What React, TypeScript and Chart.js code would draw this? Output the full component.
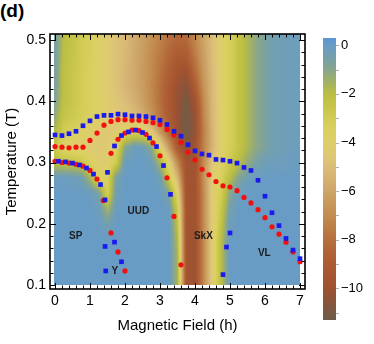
import React, { useEffect, useRef } from "react";
import { Chart, registerables } from "chart.js";

Chart.register(...registerables);

const FONT = "'Liberation Sans', Arial, Helvetica, sans-serif";

// ---------- marker data: (magnetic field h, temperature T) ----------
const blueOuterH = [0, 0.2, 0.4, 0.6, 0.8, 1.0, 1.2, 1.4, 1.6, 1.8, 2.0, 2.2, 2.4, 2.6, 2.8, 3.0, 3.2, 3.4, 3.6, 3.8, 4.0, 4.2, 4.4, 4.6, 4.8, 5.0, 5.2, 5.4, 5.6, 5.8, 6.0, 6.2, 6.4, 6.6, 6.8, 7.0];
const blueOuterT = [0.345, 0.344, 0.347, 0.351, 0.36, 0.368, 0.375, 0.377, 0.377, 0.379, 0.378, 0.376, 0.376, 0.375, 0.373, 0.369, 0.362, 0.351, 0.343, 0.329, 0.319, 0.314, 0.312, 0.305, 0.304, 0.302, 0.299, 0.292, 0.287, 0.271, 0.245, 0.218, 0.197, 0.176, 0.157, 0.143];
const blueLowerH = [0.1, 0.3, 0.5, 0.7, 0.9, 1.1, 1.3, 1.43];
const blueLowerT = [0.302, 0.301, 0.299, 0.296, 0.291, 0.281, 0.264, 0.239];
const blueDomeH = [1.5, 1.7, 1.9, 2.1, 2.3, 2.5, 2.7, 2.9, 3.1, 3.3];
const blueDomeT = [0.284, 0.327, 0.344, 0.35, 0.353, 0.349, 0.34, 0.326, 0.295, 0.248];
const blueYH = [1.43, 1.7, 1.9, 1.45];
const blueYT = [0.163, 0.17, 0.138, 0.123];
const blueSkxH = [5.0, 4.9, 4.8];
const blueSkxT = [0.185, 0.162, 0.117];

const redOuterH = [0, 0.2, 0.4, 0.6, 0.8, 1.0, 1.2, 1.4, 1.6, 1.8, 2.0, 2.2, 2.4, 2.6, 2.8, 3.0, 3.2, 3.4, 3.6, 3.8, 4.0, 4.2, 4.4, 4.6, 4.8, 5.0, 5.2, 5.4, 5.6, 5.8, 6.0, 6.2, 6.4, 6.6, 6.8, 7.0];
const redOuterT = [0.326, 0.325, 0.324, 0.325, 0.325, 0.336, 0.348, 0.361, 0.367, 0.37, 0.37, 0.369, 0.369, 0.367, 0.365, 0.362, 0.354, 0.345, 0.333, 0.317, 0.304, 0.289, 0.28, 0.269, 0.262, 0.26, 0.254, 0.243, 0.234, 0.223, 0.21, 0.195, 0.183, 0.17, 0.154, 0.138];
const redLowerH = [0, 0.2, 0.4, 0.6, 0.8, 1.0, 1.2, 1.38];
const redLowerT = [0.302, 0.3, 0.299, 0.297, 0.294, 0.287, 0.273, 0.238];
const redDomeH = [1.6, 1.8, 2.0, 2.2, 2.4, 2.6, 2.8, 3.0, 3.2, 3.4, 3.6];
const redDomeT = [0.315, 0.338, 0.348, 0.353, 0.352, 0.346, 0.332, 0.311, 0.275, 0.212, 0.133];
const redYH = [1.6, 1.8, 2.0];
const redYT = [0.185, 0.154, 0.123];

// ---------- phase labels ----------
const phaseNames = ["SP", "UUD", "Y", "SkX", "VL"];
const phaseH = [0.59, 2.38, 1.71, 4.24, 5.98];
const phaseT = [0.18, 0.221, 0.122, 0.18, 0.152];

// ---------- background field (colour-bar units) ----------
const gridH = [0, 0.25, 0.5, 0.75, 1.0, 1.25, 1.5, 1.75, 2.0, 2.25, 2.5, 2.75, 3.0, 3.25, 3.5, 3.75, 4.0, 4.25, 4.5, 4.75, 5.0, 5.25, 5.5, 5.75, 6.0, 6.25, 6.5, 6.75, 7.0];
const gridT = [0.5, 0.475, 0.45, 0.425, 0.4, 0.375, 0.35, 0.325, 0.3, 0.275, 0.25, 0.225, 0.2, 0.175, 0.15, 0.125, 0.1];
const gridValues = [
  [-0.5, -2.0, -2.5, -2.9, -3.3, -3.8, -4.3, -4.8, -5.2, -5.7, -6.2, -6.8, -7.4, -8.0, -8.4, -8.3, -7.2, -6.0, -5.0, -4.0, -3.2, -2.4, -1.7, -1.1, -0.7, -0.4, -0.3, -0.2, -0.2],
  [-0.5, -2.1, -2.5, -2.9, -3.3, -3.8, -4.3, -4.8, -5.2, -5.8, -6.3, -7.0, -7.6, -8.4, -9.0, -9.0, -7.6, -6.2, -5.0, -4.0, -3.2, -2.4, -1.7, -1.1, -0.7, -0.4, -0.3, -0.2, -0.2],
  [-0.6, -2.2, -2.6, -3.0, -3.4, -3.8, -4.3, -4.8, -5.3, -5.8, -6.4, -7.0, -7.8, -8.8, -9.6, -9.9, -8.2, -6.4, -5.1, -4.0, -3.2, -2.4, -1.7, -1.1, -0.7, -0.4, -0.3, -0.2, -0.2],
  [-0.6, -2.2, -2.6, -3.0, -3.4, -3.8, -4.3, -4.8, -5.3, -5.8, -6.3, -7.1, -8.0, -9.1, -10.0, -10.6, -9.0, -6.7, -5.2, -4.0, -3.2, -2.4, -1.7, -1.1, -0.7, -0.4, -0.3, -0.2, -0.2],
  [-0.8, -2.2, -2.6, -3.0, -3.4, -3.8, -4.2, -4.6, -5.0, -5.5, -6.2, -7.0, -8.0, -9.2, -10.2, -11.0, -9.8, -7.0, -5.2, -4.0, -3.2, -2.4, -1.7, -1.1, -0.7, -0.4, -0.3, -0.2, -0.2],
  [-1.2, -2.5, -2.8, -3.1, -3.5, -3.9, -4.2, -4.5, -4.7, -5.0, -5.6, -6.6, -7.8, -9.0, -10.2, -11.2, -10.2, -7.2, -5.3, -4.0, -3.2, -2.4, -1.7, -1.1, -0.7, -0.4, -0.3, -0.2, -0.2],
  [-1.8, -3.0, -3.4, -3.7, -4.0, -4.3, -4.5, -4.3, -3.6, -3.2, -3.4, -4.4, -6.4, -8.4, -10.0, -11.2, -10.2, -7.4, -5.4, -4.0, -3.2, -2.4, -1.7, -1.1, -0.7, -0.4, -0.3, -0.2, -0.2],
  [-2.6, -3.8, -4.0, -4.2, -4.4, -4.5, -4.4, -3.6, -1.0, -0.2, -0.2, -1.0, -3.6, -6.4, -9.2, -10.6, -9.8, -7.3, -5.4, -4.0, -3.2, -2.4, -1.7, -1.1, -0.7, -0.4, -0.3, -0.2, -0.2],
  [-2.2, -2.3, -2.4, -2.6, -3.4, -4.2, -4.2, -2.8, -0.2, 0, 0, -0.2, -1.6, -4.0, -7.0, -9.8, -9.8, -7.0, -4.6, -3.6, -2.8, -2.0, -1.2, -0.6, -0.3, -0.2, -0.2, -0.1, -0.1],
  [-0.1, -0.1, -0.2, -0.4, -1.6, -3.8, -3.4, -0.6, 0, 0, 0, 0, -0.3, -2.6, -5.4, -9.6, -9.8, -6.8, -4.3, -3.3, -2.0, -0.9, -0.3, -0.1, 0, 0, 0, 0, 0],
  [0, 0, 0, 0, -0.1, -0.6, -3.2, -0.3, 0, 0, 0, 0, 0, -0.8, -3.8, -9.6, -9.9, -7.0, -4.2, -3.0, -1.0, -0.2, 0, 0, 0, 0, 0, 0, 0],
  [0, 0, 0, 0, 0, -0.2, -1.6, -0.1, 0, 0, 0, 0, 0, -0.1, -2.8, -9.5, -9.9, -7.0, -4.3, -2.6, -0.5, 0, 0, 0, 0, 0, 0, 0, 0],
  [0, 0, 0, 0, 0, 0, -0.5, 0, 0, 0, 0, 0, 0, 0, -2.2, -9.6, -9.9, -7.0, -4.3, -2.3, -0.2, 0, 0, 0, 0, 0, 0, 0, 0],
  [0, 0, 0, 0, 0, 0, 0, 0, 0, 0, 0, 0, 0, 0, -1.8, -9.6, -10.0, -7.1, -4.2, -2.0, 0, 0, 0, 0, 0, 0, 0, 0, 0],
  [0, 0, 0, 0, 0, 0, 0, 0, 0, 0, 0, 0, 0, 0, -1.6, -9.6, -10.0, -7.1, -4.2, -2.0, 0, 0, 0, 0, 0, 0, 0, 0, 0],
  [0, 0, 0, 0, 0, 0, 0, 0, 0, 0, 0, 0, 0, 0, -1.6, -9.6, -10.0, -7.1, -4.2, -2.0, 0, 0, 0, 0, 0, 0, 0, 0, 0],
  [0, 0, 0, 0, 0, 0, 0, 0, 0, 0, 0, 0, 0, 0, -1.6, -9.6, -10.0, -7.1, -4.2, -2.0, 0, 0, 0, 0, 0, 0, 0, 0, 0],
];

// ---------- colour map ----------
const cmapValues = [0.3, 0, -0.5, -1, -1.5, -2, -2.5, -3, -3.5, -4, -4.5, -5, -5.5, -6, -6.5, -7, -7.5, -8, -8.5, -9, -9.5, -10, -10.5, -11, -11.3];
const cmapColors = [
  [88, 150, 214], [105, 156, 196], [116, 160, 172], [136, 166, 140], [162, 177, 100], [186, 190, 66],
  [197, 196, 72], [210, 204, 86], [218, 208, 96], [222, 206, 106], [222, 200, 116], [218, 190, 120],
  [212, 178, 114], [205, 165, 104], [200, 152, 92], [195, 140, 80], [188, 125, 70], [182, 112, 62],
  [177, 100, 55], [172, 92, 50], [166, 86, 48], [156, 82, 50], [138, 84, 58], [120, 90, 68], [108, 92, 72],
];

// ---------- ticks ----------
const xTickValues = [0, 1, 2, 3, 4, 5, 6, 7];
const yTickValues = [0.1, 0.2, 0.3, 0.4, 0.5];
const cbTickValues = [-10, -8, -6, -4, -2, 0];

const X_MIN = -1 / 7;
const X_MAX = 7 + 1 / 7;
const Y_MIN = 0.0935;
const Y_MAX = 0.5098;
const HEAT_X = [-0.04, 7.0];
const HEAT_Y = [0.1, 0.51];
const CB_MIN = -11.3;
const CB_MAX = 0.3;

function pts(hs: number[], ts: number[]) {
  return hs.map((h, i) => ({ x: h, y: ts[i] }));
}

function colorFor(v: number): number[] {
  if (v >= cmapValues[0]) return cmapColors[0];
  for (let k = 0; k < cmapValues.length - 1; k++) {
    const a = cmapValues[k], b = cmapValues[k + 1];
    if (v <= a && v >= b) {
      const t = (a - v) / (a - b);
      const c0 = cmapColors[k], c1 = cmapColors[k + 1];
      return [c0[0] + (c1[0] - c0[0]) * t, c0[1] + (c1[1] - c0[1]) * t, c0[2] + (c1[2] - c0[2]) * t];
    }
  }
  return cmapColors[cmapColors.length - 1];
}

function locate(arr: number[], v: number): [number, number] {
  const asc = arr[arr.length - 1] > arr[0];
  const n = arr.length;
  for (let k = 0; k < n - 1; k++) {
    const a = arr[k], b = arr[k + 1];
    const lo = Math.min(a, b), hi = Math.max(a, b);
    if (v >= lo && v <= hi) return [k, (v - a) / (b - a)];
  }
  if (asc) return v < arr[0] ? [0, 0] : [n - 2, 1];
  return v > arr[0] ? [0, 0] : [n - 2, 1];
}

function fieldAt(h: number, T: number): number {
  const [i, tx] = locate(gridH, h);
  const [j, ty] = locate(gridT, T);
  const v00 = gridValues[j][i], v01 = gridValues[j][i + 1];
  const v10 = gridValues[j + 1][i], v11 = gridValues[j + 1][i + 1];
  const top = v00 + (v01 - v00) * tx;
  const bot = v10 + (v11 - v10) * tx;
  return top + (bot - top) * ty;
}

const heatmapPlugin = {
  id: "heatmap",
  beforeDatasetsDraw(chart: any) {
    const { ctx, scales } = chart;
    const xs = scales.x, ys = scales.y;
    const left = Math.round(xs.getPixelForValue(HEAT_X[0]));
    const right = Math.round(xs.getPixelForValue(HEAT_X[1]));
    const top = Math.round(ys.getPixelForValue(HEAT_Y[1]));
    const bottom = Math.round(ys.getPixelForValue(HEAT_Y[0]));
    const w = right - left, hgt = bottom - top;
    const off = document.createElement("canvas");
    off.width = w;
    off.height = hgt;
    const octx = off.getContext("2d")!;
    const img = octx.createImageData(w, hgt);
    for (let j = 0; j < hgt; j++) {
      const T = ys.getValueForPixel(top + j + 0.5);
      for (let i = 0; i < w; i++) {
        const h = xs.getValueForPixel(left + i + 0.5);
        const c = colorFor(fieldAt(h, T));
        const p = (j * w + i) * 4;
        img.data[p] = c[0];
        img.data[p + 1] = c[1];
        img.data[p + 2] = c[2];
        img.data[p + 3] = 255;
      }
    }
    octx.putImageData(img, 0, 0);
    ctx.drawImage(off, left, top);
  },
};

const labelsPlugin = {
  id: "phaseLabels",
  afterDatasetsDraw(chart: any) {
    const { ctx, scales } = chart;
    ctx.save();
    ctx.font = `bold 10px ${FONT}`;
    ctx.fillStyle = "#1c1c1c";
    ctx.textAlign = "center";
    ctx.textBaseline = "middle";
    phaseNames.forEach((name, i) => {
      ctx.fillText(name, scales.x.getPixelForValue(phaseH[i]), scales.y.getPixelForValue(phaseT[i]));
    });
    ctx.restore();
  },
};

const framePlugin = {
  id: "frame",
  afterDraw(chart: any) {
    const { ctx, chartArea: a, scales } = chart;
    ctx.save();
    ctx.strokeStyle = "#000";
    ctx.lineWidth = 1;
    ctx.beginPath();
    const tickX = (v: number, len: number) => {
      const px = Math.round(scales.x.getPixelForValue(v)) + 0.5;
      ctx.moveTo(px, a.bottom);
      ctx.lineTo(px, a.bottom - len);
      ctx.moveTo(px, a.top);
      ctx.lineTo(px, a.top + len);
    };
    const tickY = (v: number, len: number) => {
      const py = Math.round(scales.y.getPixelForValue(v)) + 0.5;
      ctx.moveTo(a.left, py);
      ctx.lineTo(a.left + len, py);
      ctx.moveTo(a.right, py);
      ctx.lineTo(a.right - len, py);
    };
    for (let k = 0; k <= 35; k++) {
      tickX(k * 0.2, k % 5 === 0 ? 6 : 3.5);
    }
    for (let k = 5; k <= 25; k++) {
      tickY(k * 0.02, k % 5 === 0 ? 6 : 3.5);
    }
    ctx.stroke();
    ctx.lineWidth = 1.6;
    ctx.strokeRect(a.left, a.top, a.right - a.left, a.bottom - a.top);
    ctx.restore();
  },
};

const colorbarPlugin = {
  id: "colorbar",
  beforeDraw(chart: any) {
    const { ctx, chartArea: a, scales } = chart;
    const ys = scales.y;
    const top = ys.getPixelForValue(CB_MAX);
    const bottom = ys.getPixelForValue(CB_MIN);
    const g = ctx.createLinearGradient(0, top, 0, bottom);
    cmapValues.forEach((v, i) => {
      const off = (ys.getPixelForValue(v) - top) / (bottom - top);
      const c = cmapColors[i];
      g.addColorStop(Math.min(1, Math.max(0, off)), `rgb(${c[0]},${c[1]},${c[2]})`);
    });
    ctx.save();
    ctx.fillStyle = g;
    ctx.fillRect(a.left, top, a.right - a.left, bottom - top);
    ctx.strokeStyle = "#b0b0b0";
    ctx.lineWidth = 1;
    ctx.beginPath();
    for (let v = -11; v <= 0; v++) {
      const py = Math.round(ys.getPixelForValue(v)) + 0.5;
      ctx.moveTo(a.right, py);
      ctx.lineTo(a.right + 3, py);
    }
    ctx.stroke();
    ctx.restore();
  },
};

export default function App() {
  const mainRef = useRef<HTMLCanvasElement>(null);
  const cbRef = useRef<HTMLCanvasElement>(null);

  useEffect(() => {
    const main = new Chart(mainRef.current!, {
      type: "scatter",
      data: {
        datasets: [
          {
            label: "blue",
            order: 0,
            data: [
              ...pts(blueOuterH, blueOuterT),
              ...pts(blueLowerH, blueLowerT),
              ...pts(blueDomeH, blueDomeT),
              ...pts(blueYH, blueYT),
              ...pts(blueSkxH, blueSkxT),
            ],
            pointStyle: "rect",
            pointRadius: 3.3,
            pointBorderWidth: 0,
            backgroundColor: "#1a1aee",
            borderColor: "#1a1aee",
          },
          {
            label: "red",
            order: 1,
            data: [
              ...pts(redOuterH, redOuterT),
              ...pts(redLowerH, redLowerT),
              ...pts(redDomeH, redDomeT),
              ...pts(redYH, redYT),
            ],
            pointStyle: "circle",
            pointRadius: 2.6,
            pointBorderWidth: 0,
            backgroundColor: "#f21010",
            borderColor: "#f21010",
          },
        ],
      },
      options: {
        animation: false,
        responsive: false,
        devicePixelRatio: 1,
        layout: { padding: { top: 34, right: 5, left: 0, bottom: 0 } },
        plugins: { legend: { display: false }, tooltip: { enabled: false } },
        scales: {
          x: {
            type: "linear",
            min: X_MIN,
            max: X_MAX,
            grid: { display: false, drawTicks: false },
            border: { display: false },
            afterBuildTicks: (s: any) => {
              s.ticks = xTickValues.map((v) => ({ value: v }));
            },
            afterFit: (s: any) => {
              s.height = 55;
            },
            ticks: {
              color: "#000",
              font: { family: FONT, size: 14 },
              padding: 4,
              maxRotation: 0,
              autoSkip: false,
              callback: (v: any) => String(v),
            },
            title: {
              display: true,
              text: "Magnetic Field (h)",
              color: "#000",
              font: { family: FONT, size: 15 },
              padding: { top: 0, bottom: 9 },
            },
          },
          y: {
            type: "linear",
            min: Y_MIN,
            max: Y_MAX,
            grid: { display: false, drawTicks: false },
            border: { display: false },
            afterBuildTicks: (s: any) => {
              s.ticks = yTickValues.map((v) => ({ value: v }));
            },
            afterFit: (s: any) => {
              s.width = 50;
            },
            ticks: {
              color: "#000",
              font: { family: FONT, size: 14 },
              padding: 4,
              autoSkip: false,
              callback: (v: any) => Number(v).toFixed(1),
            },
            title: {
              display: true,
              text: "Temperature (T)",
              color: "#000",
              font: { family: FONT, size: 15 },
              padding: { top: 3, bottom: 0 },
            },
          },
        },
      },
      plugins: [heatmapPlugin, labelsPlugin, framePlugin],
    } as any);

    const cb = new Chart(cbRef.current!, {
      type: "scatter",
      data: { datasets: [] },
      options: {
        animation: false,
        responsive: false,
        devicePixelRatio: 1,
        layout: { padding: { top: 38, left: 13, right: 0, bottom: 24 } },
        plugins: { legend: { display: false }, tooltip: { enabled: false } },
        scales: {
          x: { type: "linear", display: false, min: 0, max: 1 },
          y: {
            type: "linear",
            position: "right",
            min: CB_MIN,
            max: CB_MAX,
            grid: { display: false, drawTicks: false },
            border: { display: false },
            afterBuildTicks: (s: any) => {
              s.ticks = cbTickValues.map((v) => ({ value: v }));
            },
            afterFit: (s: any) => {
              s.width = 38;
            },
            ticks: {
              color: "#000",
              font: { family: FONT, size: 13 },
              padding: 5,
              autoSkip: false,
              callback: (v: any) => (Number(v) === 0 ? "0" : "\u2212" + Math.abs(Number(v))),
            },
          },
        },
      },
      plugins: [colorbarPlugin],
    } as any);

    return () => {
      main.destroy();
      cb.destroy();
    };
  }, []);

  return (
    <div style={{ position: "fixed", left: 0, top: 0, width: 374, height: 344, background: "#fff", overflow: "hidden" }}>
      <div style={{ position: "absolute", left: 0, top: 0, font: `bold 19px ${FONT}`, lineHeight: "22px", color: "#000" }}>(d)</div>
      <canvas ref={mainRef} width={310} height={344} style={{ position: "absolute", left: 0, top: 0, width: 310, height: 344 }} />
      <canvas ref={cbRef} width={64} height={344} style={{ position: "absolute", left: 310, top: 0, width: 64, height: 344 }} />
    </div>
  );
}
